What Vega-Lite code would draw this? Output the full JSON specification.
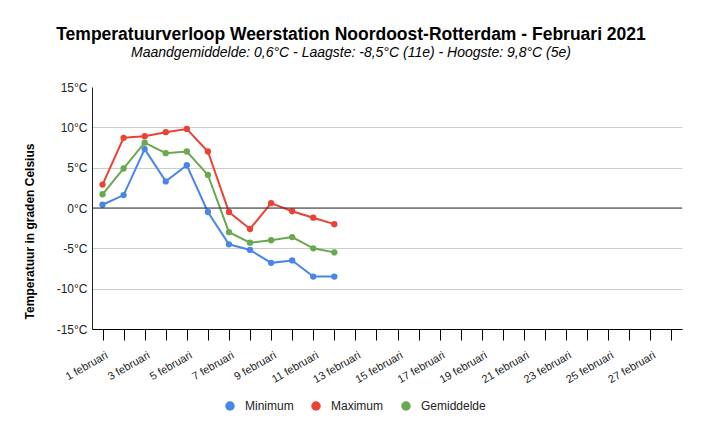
{
  "$schema": "https://vega.github.io/schema/vega-lite/v6.json",
  "width": 590,
  "height": 242,
  "autosize": {"type": "none"},
  "padding": {"left": 92, "top": 87, "right": 19, "bottom": 106},
  "background": "white",
  "config": {
    "font": "Liberation Sans",
    "view": {"stroke": null}
  },
  "title": {
    "text": "Temperatuurverloop Weerstation Noordoost-Rotterdam - Februari 2021",
    "subtitle": "Maandgemiddelde: 0,6°C - Laagste: -8,5°C (11e) - Hoogste: 9,8°C (5e)",
    "anchor": "middle",
    "frame": "group",
    "dx": -36,
    "offset": 21,
    "fontSize": 17.5,
    "fontWeight": "bold",
    "color": "#000000",
    "subtitleFontSize": 14,
    "subtitleFontStyle": "italic",
    "subtitleColor": "#000000",
    "subtitlePadding": 3
  },
  "datasets": {
    "temperaturen": [
      {"dag": 1, "reeks": "Minimum", "temp": 0.4},
      {"dag": 2, "reeks": "Minimum", "temp": 1.6},
      {"dag": 3, "reeks": "Minimum", "temp": 7.3},
      {"dag": 4, "reeks": "Minimum", "temp": 3.3},
      {"dag": 5, "reeks": "Minimum", "temp": 5.3},
      {"dag": 6, "reeks": "Minimum", "temp": -0.5},
      {"dag": 7, "reeks": "Minimum", "temp": -4.5},
      {"dag": 8, "reeks": "Minimum", "temp": -5.2},
      {"dag": 9, "reeks": "Minimum", "temp": -6.8},
      {"dag": 10, "reeks": "Minimum", "temp": -6.5},
      {"dag": 11, "reeks": "Minimum", "temp": -8.5},
      {"dag": 12, "reeks": "Minimum", "temp": -8.5},
      {"dag": 1, "reeks": "Maximum", "temp": 2.9},
      {"dag": 2, "reeks": "Maximum", "temp": 8.7},
      {"dag": 3, "reeks": "Maximum", "temp": 8.9},
      {"dag": 4, "reeks": "Maximum", "temp": 9.4},
      {"dag": 5, "reeks": "Maximum", "temp": 9.8},
      {"dag": 6, "reeks": "Maximum", "temp": 7.0},
      {"dag": 7, "reeks": "Maximum", "temp": -0.5},
      {"dag": 8, "reeks": "Maximum", "temp": -2.6},
      {"dag": 9, "reeks": "Maximum", "temp": 0.6},
      {"dag": 10, "reeks": "Maximum", "temp": -0.4},
      {"dag": 11, "reeks": "Maximum", "temp": -1.2},
      {"dag": 12, "reeks": "Maximum", "temp": -2.0},
      {"dag": 1, "reeks": "Gemiddelde", "temp": 1.7},
      {"dag": 2, "reeks": "Gemiddelde", "temp": 4.9},
      {"dag": 3, "reeks": "Gemiddelde", "temp": 8.1},
      {"dag": 4, "reeks": "Gemiddelde", "temp": 6.8},
      {"dag": 5, "reeks": "Gemiddelde", "temp": 7.0},
      {"dag": 6, "reeks": "Gemiddelde", "temp": 4.1},
      {"dag": 7, "reeks": "Gemiddelde", "temp": -3.0},
      {"dag": 8, "reeks": "Gemiddelde", "temp": -4.3},
      {"dag": 9, "reeks": "Gemiddelde", "temp": -4.0},
      {"dag": 10, "reeks": "Gemiddelde", "temp": -3.6},
      {"dag": 11, "reeks": "Gemiddelde", "temp": -5.0},
      {"dag": 12, "reeks": "Gemiddelde", "temp": -5.5}
    ],
    "nullijn": [{"temp": 0}]
  },
  "layer": [
    {
      "data": {"name": "temperaturen"},
      "mark": {"type": "line", "strokeWidth": 2, "point": {"filled": true, "size": 40}},
      "encoding": {
        "x": {
          "field": "dag",
          "type": "ordinal",
          "scale": {
            "type": "point",
            "padding": 0.5,
            "domain": [1, 2, 3, 4, 5, 6, 7, 8, 9, 10, 11, 12, 13, 14, 15, 16, 17, 18, 19, 20, 21, 22, 23, 24, 25, 26, 27, 28]
          },
          "axis": {
            "title": null,
            "labelExpr": "datum.value % 2 == 1 ? datum.value + ' februari' : ''",
            "labelAngle": -30,
            "labelAlign": "right",
            "labelBaseline": "top",
            "labelPadding": 9,
            "labelOffset": 1,
            "labelFontSize": 11,
            "labelColor": "#222222",
            "labelOverlap": false,
            "tickSize": 11,
            "tickColor": "#000000",
            "domainColor": "#000000",
            "grid": false
          }
        },
        "y": {
          "field": "temp",
          "type": "quantitative",
          "scale": {"domain": [-15, 15], "nice": false, "zero": false},
          "axis": {
            "title": "Temperatuur in graden Celsius",
            "titleFontSize": 12,
            "titleFontWeight": "bold",
            "titleColor": "#000000",
            "titleAngle": -90,
            "titleAlign": "center",
            "titleBaseline": "middle",
            "titleX": -63,
            "titleY": 144,
            "values": [-15, -10, -5, 0, 5, 10, 15],
            "labelExpr": "datum.value + '°C'",
            "labelFontSize": 12,
            "labelColor": "#222222",
            "labelPadding": 5,
            "ticks": false,
            "domainColor": "#222222",
            "gridColor": {"condition": {"test": "datum.value == 15", "value": "transparent"}, "value": "#cccccc"}
          }
        },
        "color": {
          "field": "reeks",
          "type": "nominal",
          "scale": {
            "domain": ["Minimum", "Maximum", "Gemiddelde"],
            "range": ["#4a86e8", "#ea4335", "#6aa84f"]
          },
          "legend": {
            "title": null,
            "orient": "none",
            "direction": "horizontal",
            "legendX": 132,
            "legendY": 313,
            "symbolType": "circle",
            "symbolSize": 90,
            "symbolStrokeWidth": 0,
            "labelFontSize": 12,
            "labelColor": "#222222",
            "labelOffset": 9,
            "columnPadding": 16
          }
        }
      }
    },
    {
      "data": {"name": "nullijn"},
      "mark": {"type": "rule", "color": "#333333", "strokeWidth": 1},
      "encoding": {
        "y": {"field": "temp", "type": "quantitative"}
      }
    }
  ]
}
